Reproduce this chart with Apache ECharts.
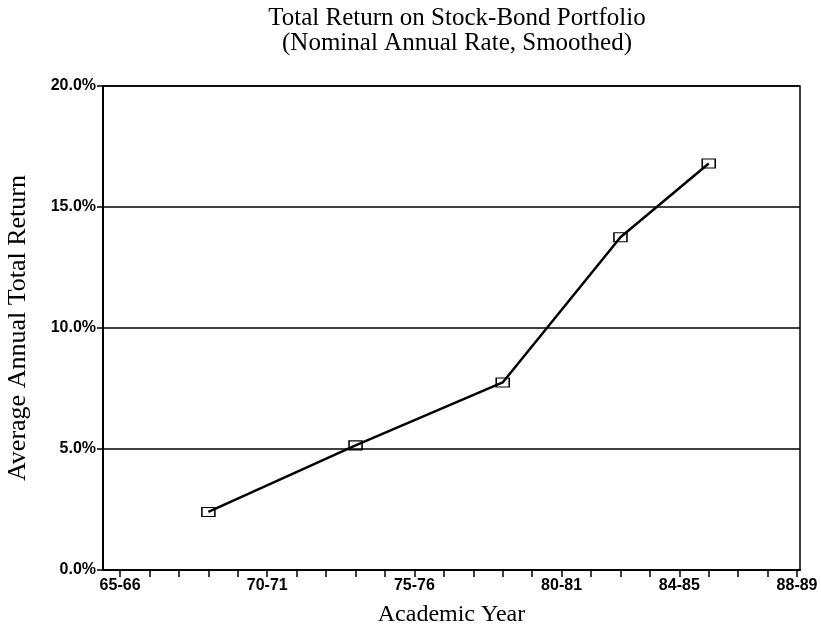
<!DOCTYPE html>
<html>
  <head>
    <meta http-equiv="Content-Type" content="text/html; charset=utf-8">
    <title>Total Return on Stock-Bond Portfolio</title>
    <style>
      html, body { margin: 0; padding: 0; background: #fff; }
      #chart { width: 821px; height: 632px; }
    </style>
    <script src="https://cdn.jsdelivr.net/npm/echarts@6/dist/echarts.min.js"></script>
  </head>
  <body>
    <div id="chart"></div>
    <script type="text/javascript">
      // academic year = first calendar year (68 means 68-69)
      var pointYears = [68, 73, 78, 82, 85];
      var returnPct = [2.4, 5.15, 7.75, 13.75, 16.8];
      var tickYears = [65, 66, 67, 68, 69, 70, 71, 72, 73, 74, 75, 76, 77, 78, 79, 80, 81, 82, 83, 84, 85, 86, 87, 88];
      var labelYears = [65, 70, 75, 80, 84, 88];

      var serif = '"Liberation Serif", "DejaVu Serif", serif';
      var sans = '"Liberation Sans", Arial, sans-serif';

      var myChart = echarts.init(document.getElementById('chart'));
      myChart.setOption({
        backgroundColor: '#fff',
        animation: false,
        title: {
          text: 'Total Return on Stock-Bond Portfolio\n(Nominal Annual Rate, Smoothed)',
          left: 452,
          top: 1,
          textAlign: 'center',
          textStyle: { fontFamily: serif, fontSize: 25, fontWeight: 'normal', color: '#000', lineHeight: 25 }
        },
        grid: {
          left: 103, right: 21, top: 86, bottom: 62,
          outerBoundsMode: 'none',
          containLabel: false,
          show: true, borderColor: '#000', borderWidth: 1.5
        },
        xAxis: {
          type: 'value',
          min: 64.42,
          max: 88.1,
          name: 'Academic Year',
          nameLocation: 'middle',
          nameGap: 33,
          nameTextStyle: { fontFamily: serif, fontSize: 24, color: '#000' },
          axisLine: { lineStyle: { color: '#000', width: 2 } },
          axisTick: { show: true, length: 7, lineStyle: { color: '#000', width: 1.5 }, customValues: tickYears },
          axisLabel: {
            customValues: labelYears,
            formatter: function (v) { return v + '-' + (v + 1); },
            fontFamily: sans, fontSize: 16, fontWeight: 'bold', color: '#000', margin: 8
          },
          splitLine: { show: false }
        },
        yAxis: {
          type: 'value',
          min: 0,
          max: 20,
          interval: 5,
          name: 'Average Annual Total Return',
          nameLocation: 'middle',
          nameGap: 72,
          nameTextStyle: { fontFamily: serif, fontSize: 26, color: '#000' },
          axisLine: { show: true, lineStyle: { color: '#000', width: 2 } },
          axisTick: { show: true, length: 6, lineStyle: { color: '#000', width: 1.5 } },
          axisLabel: {
            formatter: function (v) { return v.toFixed(1) + '%'; },
            fontFamily: sans, fontSize: 16, fontWeight: 'bold', color: '#000', margin: 7
          },
          splitLine: { show: true, lineStyle: { color: '#000', width: 1.5 } }
        },
        series: [{
          type: 'line',
          data: pointYears.map(function (y, i) { return [y, returnPct[i]]; }),
          lineStyle: { color: '#000', width: 2.5 },
          symbol: 'rect',
          symbolSize: [13, 9],
          itemStyle: { color: 'rgba(255,255,255,0)', borderColor: '#000', borderWidth: 1.3 },
          z: 5
        }]
      });
    </script>
  </body>
</html>
